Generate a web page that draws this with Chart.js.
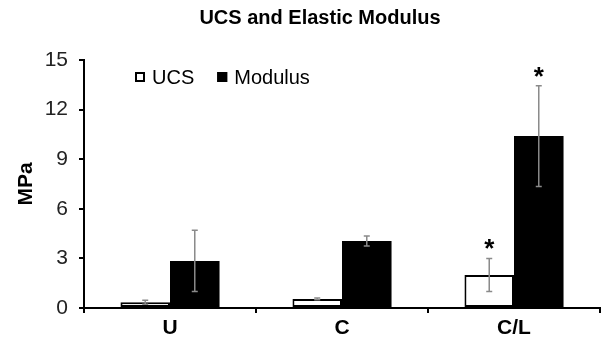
<!DOCTYPE html>
<html>
<head>
<meta charset="utf-8">
<script src="https://cdn.jsdelivr.net/npm/chart.js@4.4.0/dist/chart.umd.min.js"></script>
<style>
  html, body { margin: 0; padding: 0; background: #fff; }
  #wrap { width: 605px; height: 347px; }
</style>
</head>
<body>
<div id="wrap"><canvas id="ucsChart" width="605" height="347"></canvas></div>
<script>
const chartTitle = 'UCS and Elastic Modulus';
const groups = ['U', 'C', 'C/L'];
const ucsValues = [0.35, 0.55, 2.0];
const ucsErrors = [0.12, 0.05, 1.0];
const modulusValues = [2.85, 4.05, 10.4];
const modulusErrors = [1.85, 0.3, 3.05];
const yTicks = [0, 3, 6, 9, 12, 15];
// which bars get a significance star
const ucsStars = [false, false, true];
const modulusStars = [false, false, true];

const FONT = 'Arial, "Liberation Sans", sans-serif';

// error bars, stars, legend and title drawn on top of the bars
const extrasPlugin = {
    id: 'extras',
    afterDatasetsDraw(chart) {
        const ctx = chart.ctx;
        const y = chart.scales.y;
        const area = chart.chartArea;
        const errs = [ucsErrors, modulusErrors];
        const stars = [ucsStars, modulusStars];

        ctx.save();
        chart.data.datasets.forEach((ds, di) => {
            const meta = chart.getDatasetMeta(di);
            meta.data.forEach((bar, i) => {
                const v = ds.data[i];
                const e = errs[di][i];
                const top = y.getPixelForValue(v + e);
                const bot = y.getPixelForValue(v - e);
                ctx.strokeStyle = '#8a8a8a';
                ctx.lineWidth = 1.5;
                ctx.beginPath();
                ctx.moveTo(bar.x, top);
                ctx.lineTo(bar.x, bot);
                ctx.moveTo(bar.x - 3, top);
                ctx.lineTo(bar.x + 3, top);
                ctx.moveTo(bar.x - 3, bot);
                ctx.lineTo(bar.x + 3, bot);
                ctx.stroke();

                if (stars[di][i]) {
                    ctx.fillStyle = '#000';
                    ctx.font = 'bold 26px ' + FONT;
                    ctx.textAlign = 'center';
                    ctx.textBaseline = 'alphabetic';
                    ctx.fillText('*', bar.x, top - 1);
                }
            });
        });

        // legend inside the plot
        let lx = area.left + 51;
        const ly = 77;
        ctx.font = '20px ' + FONT;
        ctx.textBaseline = 'middle';
        ctx.textAlign = 'left';
        chart.data.datasets.forEach((ds, di) => {
            ctx.fillStyle = ds.backgroundColor;
            ctx.fillRect(lx, ly - 5, 10, 10);
            ctx.strokeStyle = '#000';
            ctx.lineWidth = 2;
            ctx.strokeRect(lx + 1, ly - 4, 8, 8);
            ctx.fillStyle = '#000';
            ctx.fillText(ds.label, lx + 17, ly + 1);
            lx += 17 + ctx.measureText(ds.label).width + 23;
        });

        // chart title
        ctx.font = 'bold 20px ' + FONT;
        ctx.textAlign = 'center';
        ctx.textBaseline = 'middle';
        ctx.fillText(chartTitle, 320, 18);
        ctx.restore();
    }
};

const ctx = document.getElementById('ucsChart').getContext('2d');
new Chart(ctx, {
    type: 'bar',
    data: {
        labels: groups,
        datasets: [{
            label: 'UCS',
            data: ucsValues,
            backgroundColor: '#ffffff',
            borderColor: '#000000',
            borderWidth: 2,
            borderSkipped: false
        }, {
            label: 'Modulus',
            data: modulusValues,
            backgroundColor: '#000000',
            borderColor: '#000000',
            borderWidth: 0
        }]
    },
    options: {
        responsive: false,
        animation: false,
        layout: { padding: { top: 60, right: 5, left: 0, bottom: 0 } },
        datasets: {
            bar: { categoryPercentage: 0.576, barPercentage: 1.0 }
        },
        plugins: {
            legend: { display: false },
            title: { display: false },
            tooltip: { enabled: false }
        },
        scales: {
            x: {
                offset: true,
                grid: { offset: true, drawOnChartArea: false, tickLength: 5, color: '#000', lineWidth: 2 },
                border: { color: '#000', width: 2 },
                ticks: { color: '#000', padding: 3, font: { family: FONT, size: 21, weight: 'bold' } },
                afterFit: (s) => { s.height = 39; }
            },
            y: {
                min: 0,
                max: 15,
                afterBuildTicks: (s) => { s.ticks = yTicks.map(v => ({ value: v })); },
                grid: { drawOnChartArea: false, tickLength: 5, color: '#000', lineWidth: 2 },
                border: { color: '#000', width: 2 },
                ticks: { color: '#222', padding: 11, font: { family: FONT, size: 21 } },
                title: {
                    display: true,
                    text: 'MPa',
                    color: '#000',
                    padding: { top: 14, bottom: 0 },
                    font: { family: FONT, size: 21, weight: 'bold' }
                },
                afterFit: (s) => { s.width = 84; }
            }
        }
    },
    plugins: [extrasPlugin]
});
</script>
</body>
</html>
